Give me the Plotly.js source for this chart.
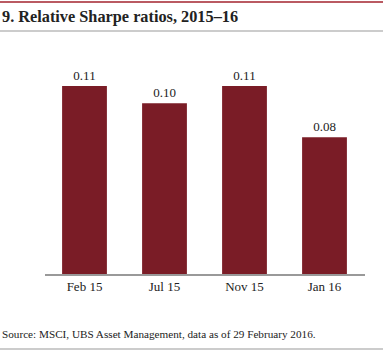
<!DOCTYPE html>
<html><head><meta charset="utf-8">
<script src="https://cdn.plot.ly/plotly-3.0.1.min.js"></script>
<style>html,body{margin:0;padding:0;background:#fff}</style>
</head><body><div id="chart" style="width:383px;height:353px"></div>
<script>
const categories = ["Feb 15", "Jul 15", "Nov 15", "Jan 16"];
const sharpeValues = [0.11, 0.10, 0.11, 0.08];
const valueLabels = ["0.11", "0.10", "0.11", "0.08"];

const serif = "Liberation Serif, DejaVu Serif, serif";
const data = [{
  type: "bar", x: categories, y: sharpeValues,
  marker: {color: "#7a1c26"},
  text: valueLabels, textposition: "outside", cliponaxis: false,
  textfont: {family: serif, size: 13, color: "#222"},
  hoverinfo: "none"
}];
const layout = {
  width: 383, height: 353,
  margin: {l: 0, r: 0, t: 50, b: 79},
  paper_bgcolor: "#fff", plot_bgcolor: "#fff",
  bargap: 0.44,
  showlegend: false,
  font: {family: serif, color: "#222"},
  xaxis: {domain: [44.5/383, 364.5/383], showline: true, linecolor: "#999", linewidth: 1.5,
          ticks: "", tickfont: {family: serif, size: 13, color: "#222"}, fixedrange: true},
  yaxis: {range: [0, 0.1311], visible: false, showgrid: false, zeroline: false, fixedrange: true},
  shapes: [
    {type: "line", xref: "paper", yref: "paper", x0: 0, x1: 1, y0: 272/224, y1: 272/224, line: {color: "#a3232e", width: 1.5}},
    {type: "line", xref: "paper", yref: "paper", x0: 0, x1: 1, y0: 243/224, y1: 243/224, line: {color: "#bbb", width: 1.5}},
    {type: "line", xref: "paper", yref: "paper", x0: 0, x1: 1, y0: -75/224, y1: -75/224, line: {color: "#bbb", width: 1.5}}
  ],
  annotations: [
    {text: "<b>9. Relative Sharpe ratios, 2015–16</b>", xref: "paper", yref: "paper", x: 0, y: (274-17)/224,
     xanchor: "left", yanchor: "middle", showarrow: false, font: {family: serif, size: 16.3, color: "#222"}},
    {text: "Source: MSCI, UBS Asset Management, data as of 29 February 2016.", xref: "paper", yref: "paper", x: 0, y: (274-334)/224,
     xanchor: "left", yanchor: "middle", showarrow: false, font: {family: serif, size: 11.2, color: "#222"}}
  ]
};
Plotly.newPlot("chart", data, layout, {displayModeBar: false, staticPlot: true});
</script></body></html>
